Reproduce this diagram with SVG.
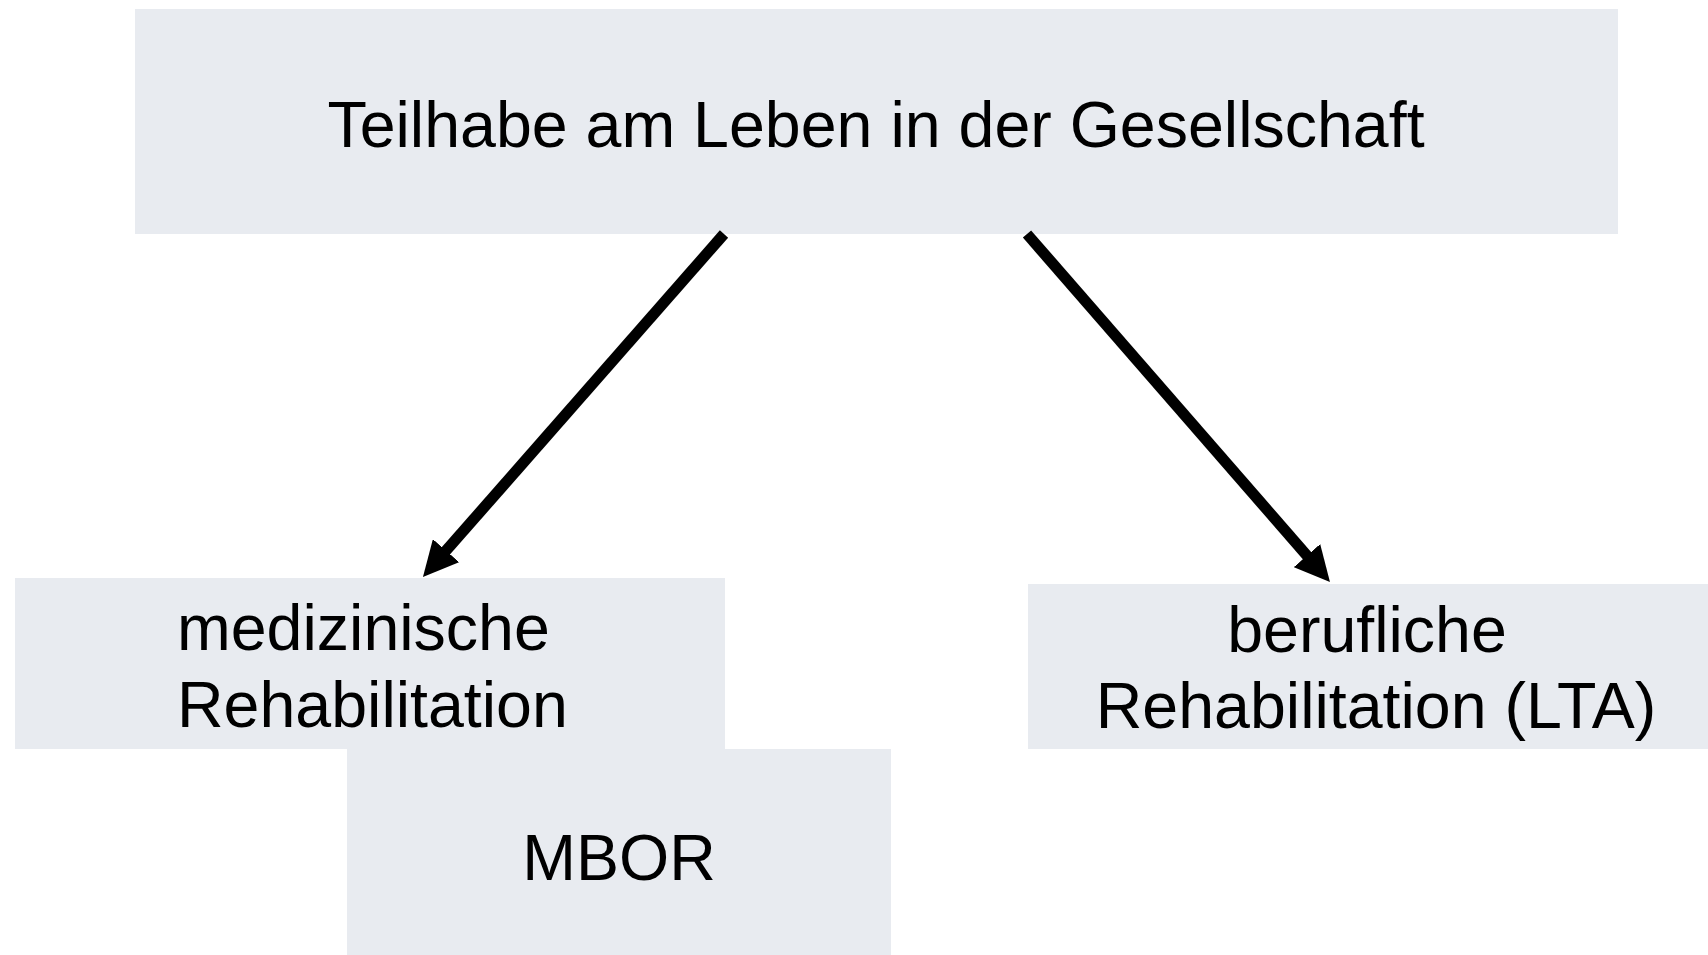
<svg xmlns="http://www.w3.org/2000/svg" width="1708" height="955" viewBox="0 0 1708 955">
<style>
.box{fill:#e8ebf0;}
.t{font-family:"Liberation Sans",Arial,sans-serif;font-size:64.5px;fill:#000;}
.c{stroke:#000;stroke-width:11;fill:none;}
</style>
<defs>
<marker id="ah" markerUnits="userSpaceOnUse" viewBox="0 0 35 35" refX="4" refY="17.5" markerWidth="35" markerHeight="35" orient="auto">
<path d="M0,0 L35,17.5 L0,35 z" fill="#000"/>
</marker>
</defs>
<rect width="1708" height="955" fill="#fff"/>
<g id="node-top">
<rect class="box" x="135" y="9" width="1483" height="225"/>
<text class="t" x="876" y="147" text-anchor="middle">Teilhabe am Leben in der Gesellschaft</text>
</g>
<g id="node-med">
<rect class="box" x="15" y="578" width="710" height="171"/>
<text class="t" x="177" y="650">medizinische</text>
<text class="t" x="177" y="727">Rehabilitation</text>
</g>
<g id="node-mbor">
<rect class="box" x="347" y="749" width="544" height="206"/>
<text class="t" x="619" y="880" text-anchor="middle">MBOR</text>
</g>
<g id="node-beruf">
<rect class="box" x="1028" y="584" width="680" height="165"/>
<text class="t" x="1367" y="652" text-anchor="middle">berufliche</text>
<text class="t" x="1376" y="728" text-anchor="middle">Rehabilitation (LTA)</text>
</g>
<g id="connectors">
<line class="c" x1="724" y1="234" x2="443.4" y2="553.7" marker-end="url(#ah)"/>
<line class="c" x1="1027" y1="234" x2="1309.6" y2="558.6" marker-end="url(#ah)"/>
</g>
</svg>
